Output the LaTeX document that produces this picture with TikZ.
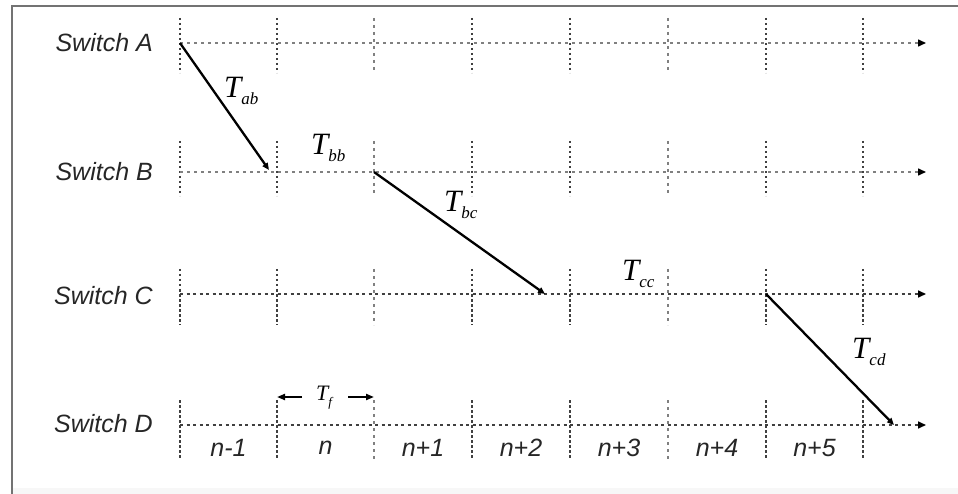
\documentclass[tikz,border=0pt]{standalone}
\usepackage{fontspec}
\setmainfont{Liberation Sans}
\newfontfamily\tfont{Liberation Serif}
\usetikzlibrary{arrows.meta}
\newcommand\tsub[1]{\raisebox{-7pt}{\fontsize{17}{17}\selectfont #1}}
\begin{document}
\begin{tikzpicture}[x=1pt,y=-1pt,
  swlabel/.style={font=\fontsize{25}{25}\selectfont\itshape, text=black!85, inner sep=0pt},
  slotlabel/.style={font=\fontsize{25}{25}\selectfont\itshape, text=black!85, inner sep=0pt},
  tlab/.style={font=\fontsize{31}{31}\selectfont\tfont\itshape, text=black, inner sep=0pt},
  tick/.style={black!75, line width=1.6pt, dash pattern=on 2.5pt off 2.5pt},
  lighttick/.style={black!50, line width=1.1pt, dash pattern=on 3pt off 4pt},
  axisl/.style={black!50, line width=1.5pt, dash pattern=on 3pt off 4pt, -{Triangle[length=8pt,width=7pt,color=black]}},
  axisd/.style={black!75, line width=1.6pt, dash pattern=on 3pt off 3.5pt, -{Triangle[length=8pt,width=7pt,color=black]}},
  msg/.style={black, line width=2.3pt, -{Triangle[length=7pt,width=6pt]}},
  tfarrow/.style={black, line width=2pt, -{Triangle[length=8pt,width=6pt]}}
]
\fill[white] (0,0) rectangle (958,494);
\useasboundingbox (0,0) rectangle (958,494);
\fill[black!3] (13,488) rectangle (958,494);
\draw[black!55, line width=2pt] (12,494) -- (12,6) -- (958,6);

% vertical ticks per row
\foreach \y/\up/\dn in {43/25/30, 172/31/24, 294/25/31, 425/25/34}{
  \foreach \x [count=\i] in {180,277,374,472,570,668,766,863}{
    \ifnum\i=3
      \draw[lighttick] (\x,\y-\up) -- (\x,\y+\dn);
    \else\ifnum\i=6
      \draw[lighttick] (\x,\y-\up) -- (\x,\y+\dn);
    \else
      \draw[tick] (\x,\y-\up) -- (\x,\y+\dn);
    \fi\fi
  }
}

% row coordinates
\coordinate (a0) at (180,43);  \coordinate (a1) at (926,43);
\coordinate (b0) at (180,172); \coordinate (b1) at (926,172);
\coordinate (c0) at (180,294); \coordinate (c1) at (926,294);
\coordinate (d0) at (180,425); \coordinate (d1) at (926,425);

\draw[axisl] (a0) -- (a1);
\draw[axisl] (b0) -- (b1);
\draw[axisd] (c0) -- (c1);
\draw[axisd] (d0) -- (d1);

% switch labels
\node[swlabel, anchor=east] (sa) at (153,43) {Switch A};
\node[swlabel, anchor=east] (sb) at (153,172) {Switch B};
\node[swlabel, anchor=east] (sc) at (153,296) {Switch C};
\node[swlabel, anchor=east] (sd) at (153,424) {Switch D};

% message transfers
\coordinate (ma0) at (180,43);  \coordinate (ma1) at (269,170);
\coordinate (mb0) at (374,172); \coordinate (mb1) at (545,294);
\coordinate (mc0) at (766,294); \coordinate (mc1) at (894,425);
\draw[msg] (ma0) -- (ma1);
\draw[msg] (mb0) -- (mb1);
\draw[msg] (mc0) -- (mc1);

% T labels
\node[tlab, anchor=base west] (tab) at (224,98) {T\tsub{ab}};
\node[tlab, anchor=base west] (tbb) at (311,155) {T\tsub{bb}};
\node[tlab, anchor=base west] (tbc) at (444,212) {T\tsub{bc}};
\node[tlab, anchor=base west] (tcc) at (622,280) {T\tsub{cc}};
\node[tlab, anchor=base west] (tcd) at (852,358) {T\tsub{cd}};

% frame time
\node[font=\fontsize{22}{22}\selectfont\tfont\itshape, text=black, inner sep=0pt, anchor=base] (tf) at (324,400) {T\raisebox{-6pt}{\fontsize{13}{13}\selectfont f}};
\coordinate (tfl0) at (302,397); \coordinate (tfl1) at (277,397);
\coordinate (tfr0) at (348,397); \coordinate (tfr1) at (374,397);
\draw[tfarrow] (tfl0) -- (tfl1);
\draw[tfarrow] (tfr0) -- (tfr1);

% slot labels
\foreach \lab/\x [count=\k] in {n-1/228.5, n/325.5, n+1/423, n+2/521, n+3/619, n+4/717, n+5/814.5}{
  \node[slotlabel] (s\k) at (\x,448) {\lab};
}
\end{tikzpicture}
\end{document}
